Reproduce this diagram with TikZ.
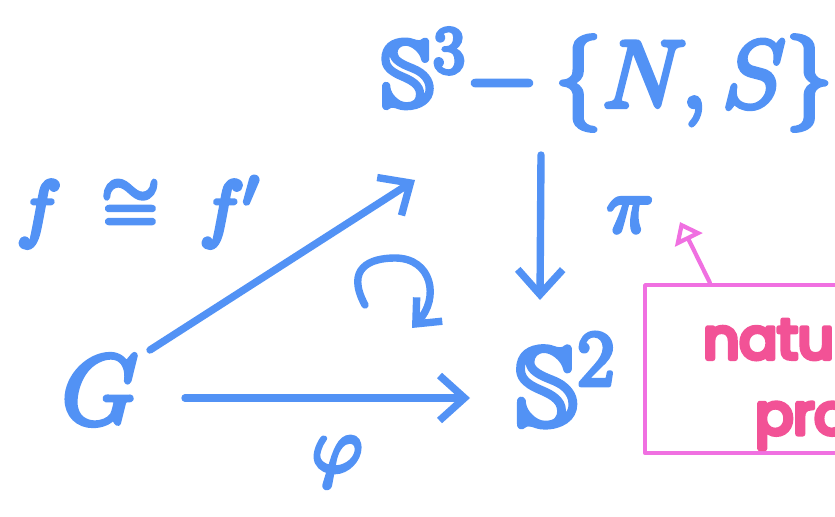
\documentclass[tikz,border=0pt]{standalone}
\usepackage{fix-cm}
\usepackage{amssymb}
\usepackage{fontspec}
\newfontfamily\notefont{Poppins}
\usetikzlibrary{arrows.meta,calc}
\definecolor{penblue}{RGB}{82,146,245}
\definecolor{penpink}{RGB}{242,82,150}
\definecolor{boxpink}{RGB}{240,112,225}
% thick marker-like glyphs
\newcommand\marker[1]{\special{pdf:literal direct 2 Tr 2.8 w 1 j}#1\special{pdf:literal direct 0 Tr}}

\begin{document}
\begin{tikzpicture}[x=0.02cm,y=-0.02cm,line cap=round,line join=round]
  \tikzstyle{obj}=[penblue,inner sep=1pt]
  \tikzstyle{pen}=[penblue,line width=4.2pt,-{Straight Barb[length=5mm,width=9mm]}]
  \tikzstyle{note}=[penpink,anchor=west,inner sep=0pt,font=\notefont\fontsize{32}{38}\selectfont]
  \useasboundingbox (0,0) rectangle (835,517);
  \clip (0,0) rectangle (835,517);
  % objects
  \node[obj,font=\fontsize{54}{64}\selectfont] (s3) at (607,80) {\marker{$\mathbb{S}^3{-}\,\{N,S\}$}};
  \node[obj,font=\fontsize{64}{74}\selectfont] (s2) at (565,380) {\marker{$\mathbb{S}^2$}};
  \node[obj,font=\fontsize{56}{64}\selectfont] (g) at (100,390) {\marker{$G$}};
  % maps
  \draw[pen] ($(s3)+(-66,75)$) -- ($(s2)+(-25,-80)$);
  \draw[pen] ($(g)+(50,-40)$) -- ($(s3)+(-192,100)$);
  \draw[pen] ($(g)+(85,8)$) -- ($(s2)+(-95,18)$);
  \node[obj,font=\fontsize{44}{52}\selectfont] (pi) at (630,215) {\marker{$\pi$}};
  \node[obj,font=\fontsize{44}{52}\selectfont] (phi) at (337,462) {\marker{$\varphi$}};
  \node[obj,font=\fontsize{42}{50}\selectfont] (f) at (138,212) {\marker{$f\;\cong\;f'$}};
  % commutes
  \draw[penblue,line width=4.2pt,-{Straight Barb[length=4mm,width=7mm]}]
    (365,305) .. controls (345,268) and (370,258) .. (395,258)
    .. controls (432,258) and (440,298) .. (412,328);
  % remark
  \node[draw=boxpink,line width=2.4pt,anchor=north west,minimum width=300*0.02cm,
    minimum height=168*0.02cm] (box) at (643,283) {};
  \node[note] (l1) at (703,338) {\marker{natural}};
  \node[note] (l2) at (755,420) {\marker{projection}};
  \draw[boxpink,line width=2.4pt,-{Triangle[open,length=4mm,width=6mm]}]
    ($(box.north west)+(67,0)$) -- ($(pi)+(50,7)$);
\end{tikzpicture}
\end{document}
